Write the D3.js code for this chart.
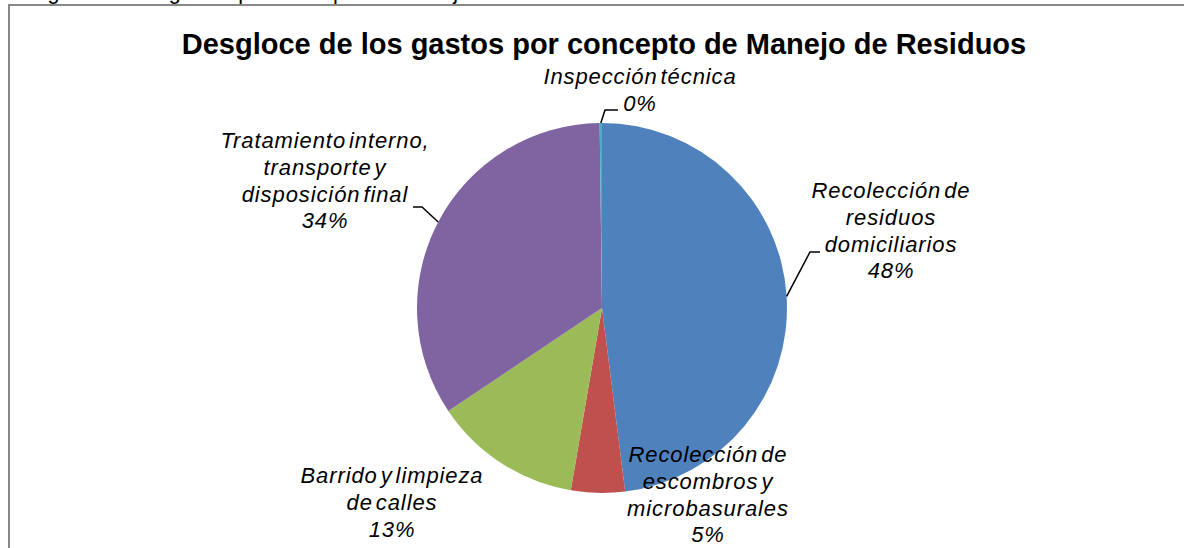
<!DOCTYPE html>
<html>
<head>
    <script src="https://cdnjs.cloudflare.com/ajax/libs/d3/7.8.5/d3.min.js"></script>
    <style>
        body { margin: 0; background: #fff; }
        svg { display: block; }
        .title { font-family: Arial, "Liberation Sans", sans-serif; font-weight: bold; font-size: 29px; }
        .lbl { font-family: Arial, "Liberation Sans", sans-serif; font-style: italic; font-size: 22px;
               letter-spacing: 0.9px; word-spacing: -4px; }
        .caption { font-family: Arial, "Liberation Sans", sans-serif; font-size: 21.6px; }
    </style>
</head>
<body>
    <div id="chart"></div>
    <script>
        // Data
        const categories = [
            "Recolección de residuos domiciliarios",
            "Recolección de escombros y microbasurales",
            "Barrido y limpieza de calles",
            "Tratamiento interno, transporte y disposición final",
            "Inspección técnica"
        ];
        const values = [48.0, 4.7, 12.9, 34.2, 0.2];
        const labelLines = [
            ["Recolección de", "residuos", "domiciliarios"],
            ["Recolección de", "escombros y", "microbasurales"],
            ["Barrido y limpieza", "de calles"],
            ["Tratamiento interno,", "transporte y", "disposición final"],
            ["Inspección técnica"]
        ];
        const colors = ["#4F81BD", "#C0504D", "#9BBB59", "#8064A2", "#4BACC6"];

        const width = 1184;
        const height = 548;
        const cx = 602, cy = 308, radius = 185;
        const lineHeight = 26.8;

        // label layout (centre x, first baseline) and leader elbows
        const labelLayout = [
            { x: 891, y: 198, elbow: [810, 252], end: 820 },
            { x: 708, y: 462 },
            { x: 392, y: 483 },
            { x: 325, y: 148, elbow: [422, 207], end: 413 },
            { x: 640, y: 84, elbow: [605, 110], end: 618 }
        ];

        const svg = d3.select("#chart")
            .append("svg")
            .attr("width", width)
            .attr("height", height);

        // caption of the figure, cut off at the top
        svg.append("text")
            .attr("class", "caption")
            .attr("x", 9)
            .attr("y", -1)
            .text("Desglose de los gastos por concepto de manejo de residuos");

        // frame
        svg.append("path")
            .attr("d", "M9," + height + "V5H" + width)
            .attr("fill", "none")
            .attr("stroke", "#888")
            .attr("stroke-width", 2);

        svg.append("text")
            .attr("class", "title")
            .attr("x", 604)
            .attr("y", 54)
            .attr("text-anchor", "middle")
            .text("Desgloce de los gastos por concepto de Manejo de Residuos");

        const total = d3.sum(values);
        const pie = d3.pie().sort(null).value(d => d)(values);
        const arc = d3.arc().innerRadius(0).outerRadius(radius);

        const g = svg.append("g").attr("transform", `translate(${cx},${cy})`);
        g.selectAll("path")
            .data(pie)
            .join("path")
            .attr("d", arc)
            .attr("fill", (d, i) => colors[i]);

        // leader lines
        pie.forEach((d, i) => {
            const lay = labelLayout[i];
            if (!lay.elbow) return;
            const a = (d.startAngle + d.endAngle) / 2;
            const p0 = [cx + radius * Math.sin(a), cy - radius * Math.cos(a)];
            svg.append("polyline")
                .attr("points", [p0, lay.elbow, [lay.end, lay.elbow[1]]].map(p => p.join(",")).join(" "))
                .attr("fill", "none")
                .attr("stroke", "#000")
                .attr("stroke-width", 1.5);
        });

        // data labels
        pie.forEach((d, i) => {
            const lay = labelLayout[i];
            const lines = labelLines[i].concat([Math.round(values[i] / total * 100) + "%"]);
            const t = svg.append("text")
                .attr("class", "lbl")
                .attr("text-anchor", "middle");
            lines.forEach((s, k) => {
                t.append("tspan")
                    .attr("x", lay.x)
                    .attr("y", lay.y + k * lineHeight)
                    .text(s);
            });
        });
    </script>
</body>
</html>
